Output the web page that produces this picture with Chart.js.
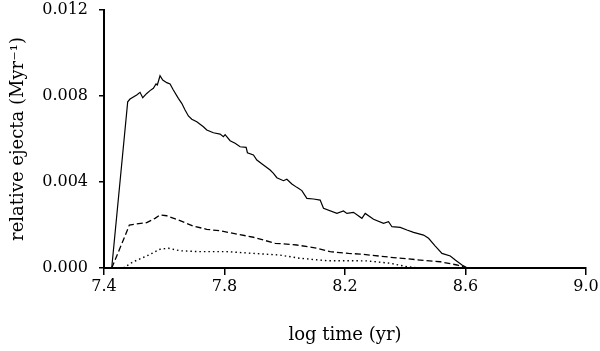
<!DOCTYPE html>
<html>
<head>
<meta charset="utf-8">
<script src="https://cdn.jsdelivr.net/npm/chart.js@4"></script>
<style>
  html, body { margin: 0; padding: 0; background: #fff; }
  #wrap { width: 600px; height: 351px; }
</style>
</head>
<body>
<div id="wrap"><canvas id="c" width="600" height="351"></canvas></div>
<script>
// ---- data ----
const xTicks = [7.4, 7.8, 8.2, 8.6, 9.0];
const yTicks = [0.000, 0.004, 0.008, 0.012];

const totalLogT = [7.4256, 7.4787, 7.4864, 7.5086, 7.5196, 7.5286, 7.5419, 7.5528, 7.5638, 7.5728, 7.5771, 7.5860, 7.5950, 7.6083, 7.6193, 7.6302, 7.6468, 7.6581, 7.6691, 7.6801, 7.6914, 7.7080, 7.7299, 7.7412, 7.7631, 7.7854, 7.7963, 7.8020, 7.8186, 7.8352, 7.8518, 7.8718, 7.8761, 7.8960, 7.9073, 7.9292, 7.9515, 7.9625, 7.9738, 7.9957, 8.0070, 8.0236, 8.0402, 8.0568, 8.0734, 8.0953, 8.1176, 8.1286, 8.1731, 8.1950, 8.2063, 8.2282, 8.2561, 8.2671, 8.2947, 8.3279, 8.3445, 8.3558, 8.3834, 8.4056, 8.4276, 8.4608, 8.4774, 8.4997, 8.5219, 8.5495, 8.5661, 8.5884, 8.6050, 8.6150, 8.9260];
const totalEjecta = [0.00000, 0.00773, 0.00786, 0.00805, 0.00817, 0.00792, 0.00812, 0.00825, 0.00836, 0.00856, 0.00851, 0.00894, 0.00874, 0.00862, 0.00856, 0.00828, 0.00789, 0.00766, 0.00735, 0.00707, 0.00692, 0.00680, 0.00657, 0.00642, 0.00629, 0.00623, 0.00611, 0.00620, 0.00592, 0.00580, 0.00564, 0.00561, 0.00536, 0.00526, 0.00502, 0.00479, 0.00456, 0.00440, 0.00420, 0.00406, 0.00413, 0.00391, 0.00375, 0.00360, 0.00324, 0.00321, 0.00316, 0.00278, 0.00254, 0.00265, 0.00254, 0.00259, 0.00231, 0.00254, 0.00227, 0.00208, 0.00215, 0.00192, 0.00189, 0.00177, 0.00166, 0.00153, 0.00138, 0.00102, 0.00068, 0.00056, 0.00037, 0.00014, 0.00001, 0.00000, 0.00000];

const dashedLogT = [7.4256, 7.4698, 7.4841, 7.5086, 7.5419, 7.5694, 7.5860, 7.6083, 7.6525, 7.6967, 7.7412, 7.7854, 7.8296, 7.8960, 7.9681, 8.0402, 8.1066, 8.1508, 8.2116, 8.2505, 8.3502, 8.4498, 8.5163, 8.5718, 8.6050, 8.9260];
const dashedEjecta = [0.00000, 0.00149, 0.00200, 0.00205, 0.00211, 0.00231, 0.00247, 0.00243, 0.00220, 0.00195, 0.00180, 0.00173, 0.00161, 0.00143, 0.00115, 0.00107, 0.00092, 0.00076, 0.00068, 0.00065, 0.00050, 0.00037, 0.00029, 0.00014, 0.00001, 0.00000];

const dottedLogT = [7.4641, 7.4973, 7.5419, 7.5860, 7.6136, 7.6525, 7.7189, 7.8076, 7.8960, 7.9847, 8.0512, 8.1399, 8.2063, 8.2728, 8.3502, 8.4056, 8.4498, 8.9260];
const dottedEjecta = [0.00000, 0.00029, 0.00056, 0.00087, 0.00092, 0.00080, 0.00076, 0.00076, 0.00068, 0.00060, 0.00045, 0.00034, 0.00034, 0.00033, 0.00022, 0.00006, 0.00000, 0.00000];

function pts(xs, ys) { return xs.map((x, i) => ({ x: x, y: ys[i] })); }

const FONT = "'DejaVu Serif', 'Liberation Serif', serif";

new Chart(document.getElementById('c'), {
  type: 'line',
  data: {
    datasets: [
      { data: pts(totalLogT, totalEjecta), borderColor: '#000', borderWidth: 1.2, pointRadius: 0, tension: 0, fill: false },
      { data: pts(dashedLogT, dashedEjecta), borderColor: '#000', borderWidth: 1.3, borderDash: [6, 3], pointRadius: 0, tension: 0, fill: false },
      { data: pts(dottedLogT, dottedEjecta), borderColor: '#000', borderWidth: 1.4, borderDash: [1.5, 3], pointRadius: 0, tension: 0, fill: false }
    ]
  },
  options: {
    responsive: false,
    animation: false,
    devicePixelRatio: 1,
    layout: { padding: { top: 10, right: 14, left: 0, bottom: 0 } },
    plugins: { legend: { display: false }, tooltip: { enabled: false } },
    scales: {
      x: {
        type: 'linear',
        min: xTicks[0],
        max: xTicks[xTicks.length - 1],
        afterBuildTicks: (s) => { s.ticks = xTicks.map(v => ({ value: v })); },
        afterFit: (s) => { s.height = 83; s.paddingLeft = 0; s.paddingRight = 0; },
        ticks: {
          color: '#000',
          font: { family: FONT, size: 16 },
          padding: 2,
          maxRotation: 0,
          callback: (v) => Number(v).toFixed(1)
        },
        grid: { drawOnChartArea: false, drawTicks: true, tickLength: 7, color: '#000', lineWidth: 1.5 },
        border: { display: true, color: '#000', width: 2 },
        title: {
          display: true,
          text: 'log time (yr)',
          color: '#000',
          font: { family: FONT, size: 18 },
          padding: { top: 0, bottom: 5 }
        }
      },
      y: {
        min: yTicks[0],
        max: yTicks[yTicks.length - 1],
        afterBuildTicks: (s) => { s.ticks = yTicks.map(v => ({ value: v })); },
        afterFit: (s) => { s.width = 104; s.paddingTop = 0; s.paddingBottom = 0; },
        ticks: {
          color: '#000',
          font: { family: FONT, size: 16 },
          padding: 11,
          callback: (v) => Number(v).toFixed(3)
        },
        grid: { drawOnChartArea: false, drawTicks: true, tickLength: 5, color: '#000', lineWidth: 1.5 },
        border: { display: true, color: '#000', width: 2 },
        title: {
          display: true,
          text: 'relative ejecta (Myr\u207B\u00B9)',
          color: '#000',
          font: { family: FONT, size: 18 },
          padding: { top: 8, bottom: 0 }
        }
      }
    }
  }
});
</script>
</body>
</html>
